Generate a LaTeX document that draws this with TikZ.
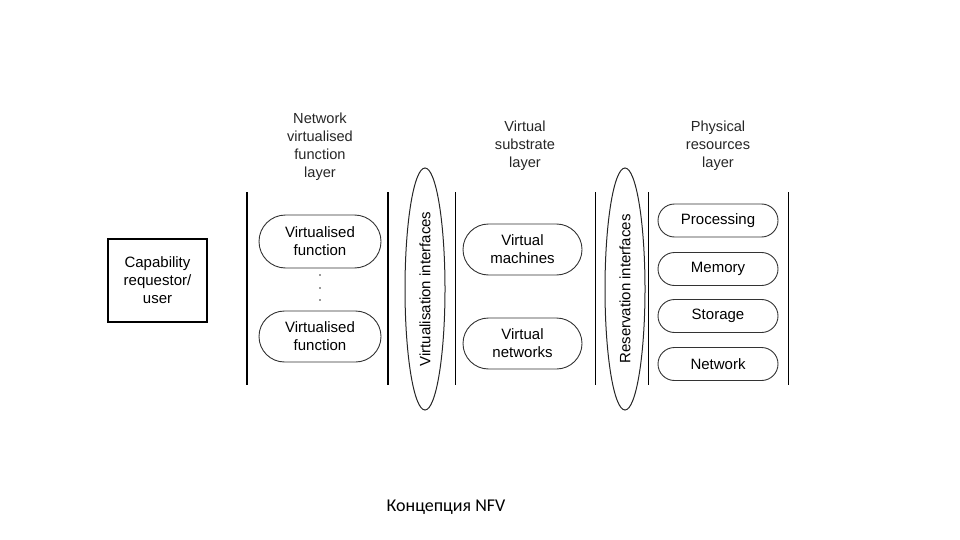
\documentclass[tikz,border=0pt]{standalone}
\usepackage{fontspec}
\setmainfont{Liberation Sans}
\newfontfamily\captionfont{Carlito}
\usetikzlibrary{shapes.misc,shapes.geometric}
\tikzset{
	layer line/.style={line width=1.6pt,draw=black},
	thin layer/.style={line width=1pt,draw=black},
	unit/.style={rounded rectangle,draw=black!80,line width=0.9pt,minimum width=124pt,align=center,inner sep=1pt},
	iface/.style={ellipse,draw=black!85,line width=1pt,rotate=90,minimum width=242pt,minimum height=40pt,inner sep=0pt},
	title/.style={align=center,font=\fontsize{14.6}{18}\selectfont,text=black!85},
	dot/.style={fill=black!80,radius=0.9pt},
}

\begin{document}
\begin{tikzpicture}[x=1pt,y=-1pt,font=\fontsize{15}{18}\selectfont]
	\useasboundingbox (0,0) rectangle (960,540);
	\def\ytop{192}  % top of the layer lines
	\def\ybot{385}  % bottom of the layer lines

	% Requestor
	\node[draw,line width=1.4pt,minimum width=99pt,minimum height=83pt,align=center] (user) at (157.5,280.5) {Capability\\requestor/\\user};

	% Layer borders
	\draw[layer line] (247,\ytop) -- (247,\ybot);
	\draw[layer line] (388,\ytop) -- (388,\ybot);
	\draw[thin layer] (455,\ytop) -- (455,\ybot);
	\draw[thin layer] (595,\ytop) -- (595,\ybot);
	\draw[thin layer] (648,\ytop) -- (648,\ybot);
	\draw[thin layer] (788,\ytop) -- (788,\ybot);

	% Interfaces
	\node[iface] (virt) at (425,289) {Virtualisation interfaces};
	\node[iface] (resv) at (625,289) {Reservation interfaces};

	% Layer titles
	\node[title] (nvf title) at (320,147) {Network\\virtualised\\function\\layer};
	\node[title] (vs title) at (525,146) {Virtual\\substrate\\layer};
	\node[title] (pr title) at (718,146) {Physical\\resources\\layer};

	% Network virtualised function layer
	\node[unit,minimum height=53pt] (vf1) at (320,241.5) {Virtualised\\function};
	\node[unit,minimum height=51pt] (vf2) at (320,336.5) {Virtualised\\function};
	\foreach \y in {275,288,300}
		\fill[dot] (320,\y) circle;

	% Virtual substrate layer
	\node[unit,minimum width=121pt,minimum height=51pt] (vm) at (522.5,249.5) {Virtual\\machines};
	\node[unit,minimum width=121pt,minimum height=51pt] (vn) at (522.5,343.5) {Virtual\\networks};

	% Physical resources layer
	\node[unit,minimum width=122pt,minimum height=33pt] (proc) at (718,220.5) {Processing};
	\node[unit,minimum width=122pt,minimum height=33pt] (mem) at (718,269) {Memory};
	\node[unit,minimum width=122pt,minimum height=33pt] (stor) at (718,316) {Storage};
	\node[unit,minimum width=122pt,minimum height=33pt] (net) at (718,364) {Network};

	% Caption
	\node[font=\captionfont\fontsize{18}{20}\selectfont] (caption) at (446,507) {Концепция NFV};
\end{tikzpicture}
\end{document}
